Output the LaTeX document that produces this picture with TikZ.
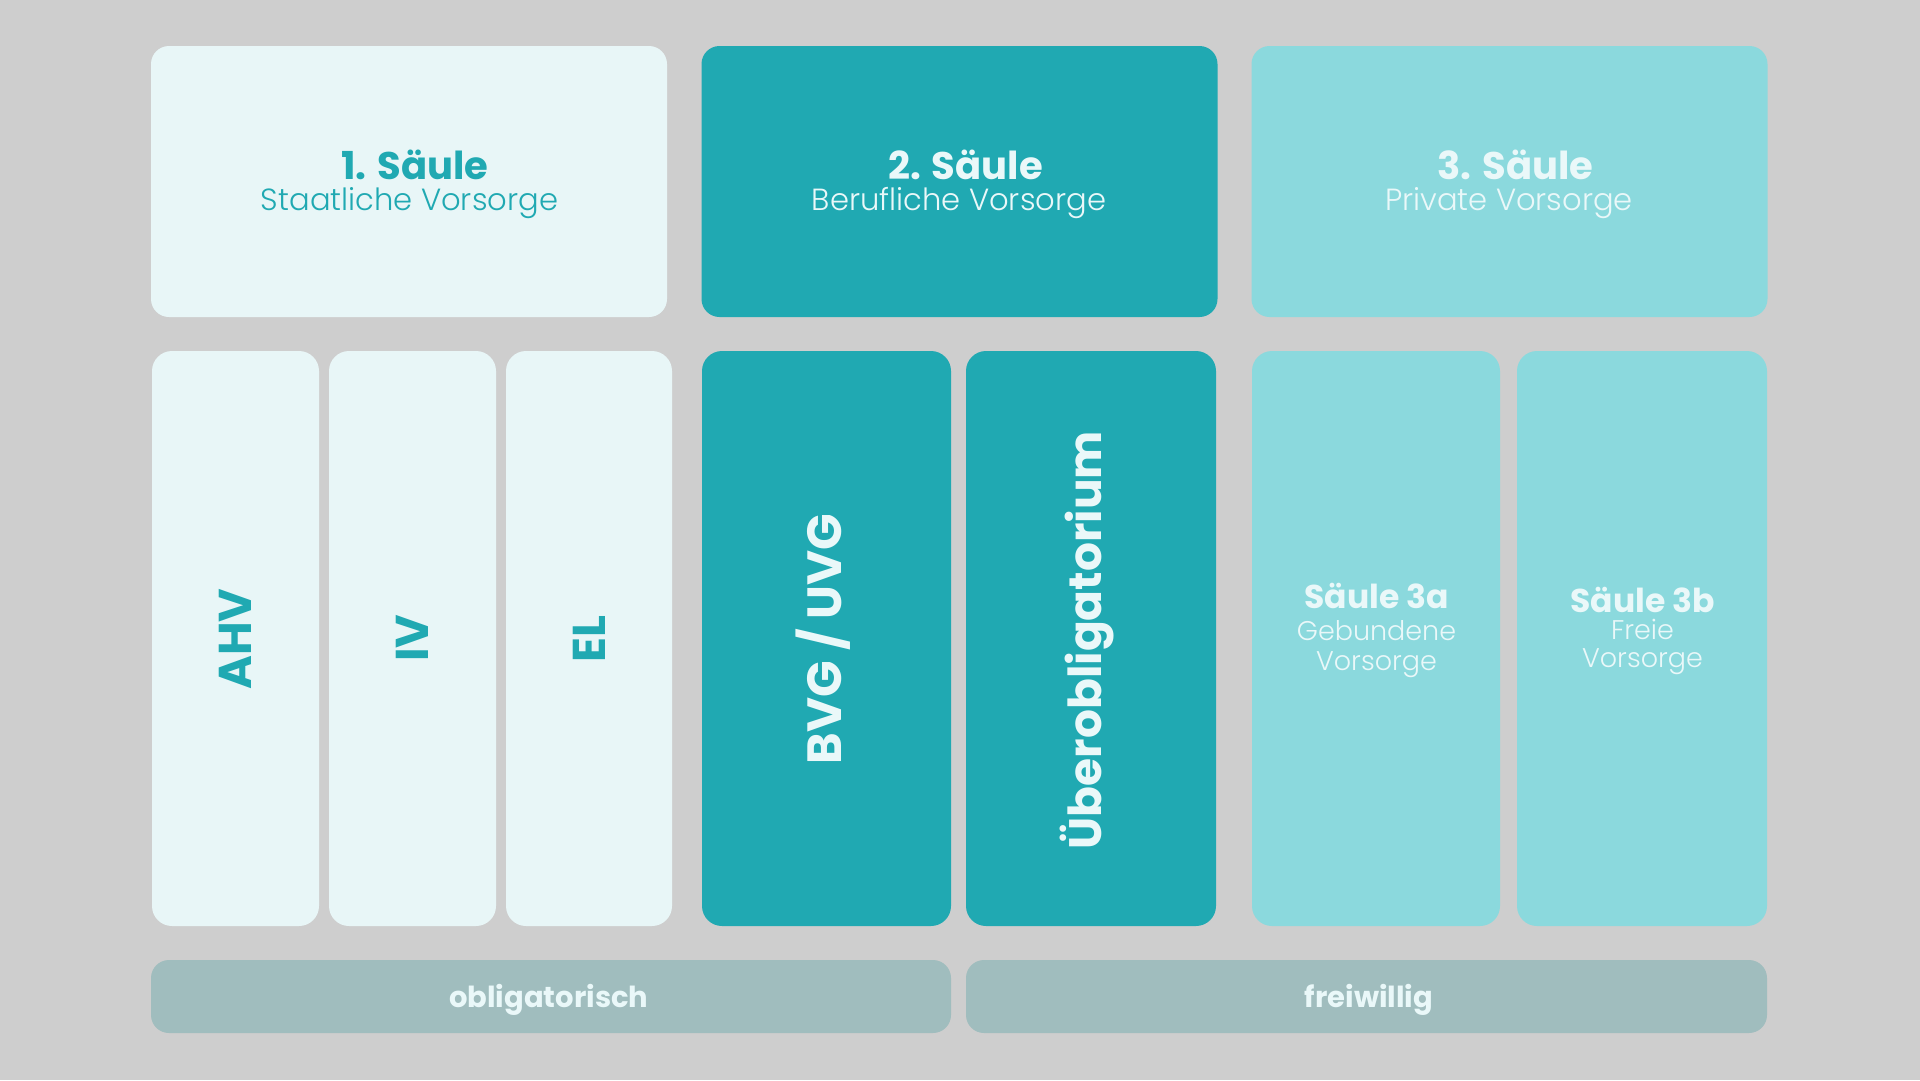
\documentclass[tikz,border=0pt]{standalone}
\usepackage{fontspec}
\setmainfont{Poppins}
\newfontfamily\poplight{Poppins Light}
\definecolor{bgc}{HTML}{CECECE}
\definecolor{pale}{HTML}{E8F6F7}
\definecolor{teal}{HTML}{20A9B2}
\definecolor{lteal}{HTML}{8BD9DD}
\definecolor{barc}{HTML}{A0BDBE}
\definecolor{wtxt}{HTML}{EAF8F9}
\begin{document}
\begin{tikzpicture}[x=1pt,y=-1pt,
  panel/.style={rounded corners=18pt, inner sep=0pt, outer sep=0pt, draw=none},
  col/.style={panel, rounded corners=20pt, minimum height=575pt},
  ttl/.style={font=\fontsize{38.5}{40}\selectfont\bfseries, anchor=base, inner sep=0pt},
  sub/.style={font=\poplight\fontsize{30.6}{32}\selectfont, anchor=base, inner sep=0pt},
  vlab/.style={rotate=90, font=\fontsize{46}{48}\selectfont\bfseries, inner sep=0pt},
  ttlb/.style={font=\fontsize{33}{36}\selectfont\bfseries, anchor=base, inner sep=0pt, text=wtxt},
  subb/.style={font=\poplight\fontsize{27}{30}\selectfont, anchor=base, inner sep=0pt, text=wtxt},
  barlab/.style={font=\fontsize{29}{32}\selectfont\bfseries, anchor=base, inner sep=0pt, text=wtxt}]
\fill[bgc] (0,0) rectangle (1920,1080);
\useasboundingbox (0,0) rectangle (1920,1080);

% top boxes
\node[panel, fill=pale, minimum width=516pt, minimum height=271pt] (s1) at (409,181.5) {};
\node[panel, fill=teal, minimum width=516pt, minimum height=271pt] (s2) at (959.5,181.5) {};
\node[panel, fill=lteal, minimum width=516pt, minimum height=271pt] (s3) at (1509.5,181.5) {};
\node[ttl, text=teal] (t1) at (415,179) {1. Säule};
\node[sub, text=teal] (u1) at (409.5,210) {Staatliche Vorsorge};
\node[ttl, text=wtxt] (t2) at (965.5,179) {2. Säule};
\node[sub, text=wtxt] (u2) at (959,210) {Berufliche Vorsorge};
\node[ttl, text=wtxt] (t3) at (1515.5,179) {3. Säule};
\node[sub, text=wtxt] (u3) at (1509,210) {Private Vorsorge};

% lower columns
\node[col, fill=pale, minimum width=167pt] (ahv) at (235.5,638.5) {};
\node[col, fill=pale, minimum width=167pt] (iv) at (412.5,638.5) {};
\node[col, fill=pale, minimum width=166pt] (el) at (589,638.5) {};
\node[col, fill=teal, minimum width=249pt] (bvg) at (826.5,638.5) {};
\node[col, fill=teal, minimum width=250pt] (ueb) at (1091,638.5) {};
\node[col, fill=lteal, minimum width=248pt] (s3a) at (1376,638.5) {};
\node[col, fill=lteal, minimum width=250pt] (s3b) at (1642,638.5) {};

\node[vlab, text=teal] (lahv) at (235.5,639) {AHV};
\node[vlab, text=teal] (liv) at (412.5,638) {IV};
\node[vlab, text=teal] (lel) at (589,639) {EL};
\node[vlab, text=wtxt, anchor=base, font=\fontsize{48}{50}\selectfont\bfseries] (lbvg) at (841,639) {BVG / UVG};
\node[vlab, text=wtxt, anchor=base, font=\fontsize{45.5}{48}\selectfont\bfseries] (lueb) at (1101,640) {Überobligatorium};

\node[ttlb] (l3a) at (1376.5,608.3) {Säule 3a};
\node[subb] (l3a1) at (1376.5,640) {Gebundene};
\node[subb] (l3a2) at (1376.5,670) {Vorsorge};
\node[ttlb] (l3b) at (1642.5,612.7) {Säule 3b};
\node[subb] (l3b1) at (1642.5,639.3) {Freie};
\node[subb] (l3b2) at (1642.5,667.7) {Vorsorge};

% bottom bars
\node[panel, fill=barc, minimum width=800pt, minimum height=73pt] (obl) at (551,996.5) {};
\node[panel, fill=barc, minimum width=801pt, minimum height=73pt] (frw) at (1366.5,996.5) {};
\node[barlab] (lobl) at (548.8,1007.7) {obligatorisch};
\node[barlab] (lfrw) at (1369,1007.3) {freiwillig};
\end{tikzpicture}
\end{document}
